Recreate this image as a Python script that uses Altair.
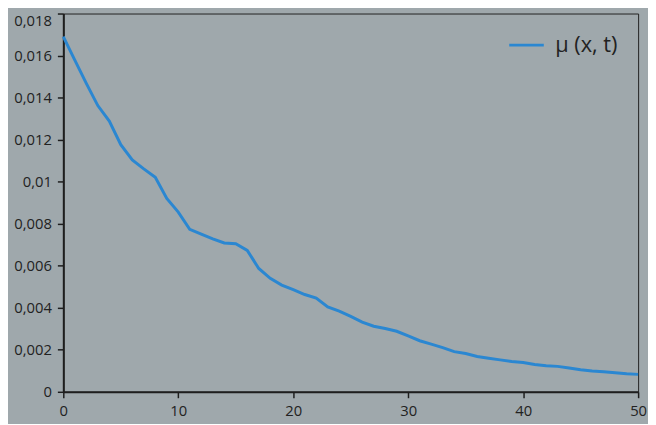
import altair as alt
import pandas as pd

x_vals = list(range(0, 51))
mu_vals = [0.0169, 0.01578, 0.01468, 0.01362, 0.01288, 0.01176, 0.01103, 0.01061, 0.01021, 0.0092, 0.00855,
           0.00773, 0.0075, 0.00728, 0.00708, 0.00705, 0.00673, 0.00587, 0.0054, 0.00508, 0.00486,
           0.00463, 0.00446, 0.00404, 0.00384, 0.00359, 0.00332, 0.00312, 0.00301, 0.00288, 0.00266,
           0.00243, 0.00227, 0.0021, 0.00191, 0.00182, 0.00168, 0.0016, 0.00152, 0.00144, 0.00139,
           0.0013, 0.00124, 0.00121, 0.00113, 0.00105, 0.00099, 0.00095, 0.00091, 0.00086, 0.00083]
series_name = "μ (x, t)"
y_ticks = [0, 0.002, 0.004, 0.006, 0.008, 0.01, 0.012, 0.014, 0.016, 0.018]
x_ticks = [0, 10, 20, 30, 40, 50]

df = pd.DataFrame({"x": x_vals, "mu": mu_vals, "series": series_name})

FONT = "Open Sans"
AXC = "#1e1e1e"

chart = alt.Chart(df).mark_line(strokeWidth=3).encode(
    x=alt.X("x:Q", scale=alt.Scale(domain=[0, 50], nice=False),
            axis=alt.Axis(values=x_ticks, title=None, labelFlush=False, grid=False,
                          labelPadding=6)),
    y=alt.Y("mu:Q", scale=alt.Scale(domain=[0, 0.018], nice=False),
            axis=alt.Axis(values=y_ticks, title=None, grid=False, labelFlush=False,
                          labelPadding=6,
                          labelExpr="replace(toString(datum.value), '.', ',')",
                          labelBaseline={"condition": {"test": "datum.value >= 0.0179", "value": "top"},
                                         "value": "middle"})),
    color=alt.Color("series:N", scale=alt.Scale(range=["#2b87d1"]),
                    legend=alt.Legend(title=None, orient="none", legendX=450, legendY=13,
                                      symbolType="stroke", symbolSize=1225, symbolStrokeWidth=3,
                                      labelFontSize=22, labelFont=FONT, labelColor="#222222",
                                      labelOffset=10, padding=0)),
).properties(
    width=582, height=383,
    autosize=alt.AutoSizeParams(type="none"),
    padding={"left": 56, "top": 3, "right": 10, "bottom": 30},
    background="#9fa8ac",
).configure_view(
    stroke="#222222", strokeWidth=1
).configure_axis(
    domainColor=AXC, domainWidth=2, tickColor=AXC, tickWidth=1.5, tickSize=6,
    labelFont=FONT, labelFontSize=15, labelColor="#222222"
)

chart.save("out.html", embed_options={"renderer": "svg", "actions": False})
